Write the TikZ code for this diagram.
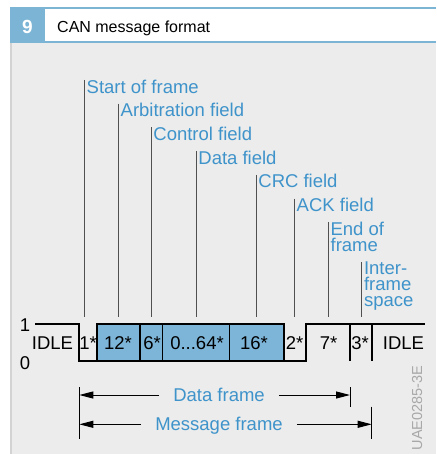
\documentclass[tikz,border=0pt]{standalone}
\usepackage{fontspec}
\setmainfont{Liberation Sans}
\usetikzlibrary{arrows.meta}
\definecolor{hdrblue}{HTML}{7CB4D6}
\definecolor{txtblue}{HTML}{3F93CB}
\definecolor{boxblue}{HTML}{7DB5D8}
\definecolor{bggrey}{HTML}{EBECEB}
\definecolor{edgegrey}{HTML}{D2D3D2}
\definecolor{leadgrey}{HTML}{505050}
\definecolor{codegrey}{HTML}{A8A8A8}
\begin{document}
\begin{tikzpicture}[x=1pt,y=-1pt,
  lbl/.style={text=txtblue, font=\fontsize{18.5}{16}\selectfont, inner sep=0pt, anchor=base west},
  mlbl/.style={text=txtblue, font=\fontsize{18.5}{16}\selectfont, inner sep=0pt, anchor=north west, align=left},
  sig/.style={line width=1.2pt, line join=miter},
  val/.style={font=\fontsize{18.5}{20}\selectfont, inner sep=0pt, anchor=base},
  lead/.style={leadgrey, line width=1pt},
  dimarrow/.style={line width=1pt, -{Triangle[length=14pt,width=7pt]}},
  bar/.style={line width=1pt},
  frm/.style={text=txtblue, font=\fontsize{18.5}{20}\selectfont, inner xsep=14pt, inner ysep=0pt, text height=13pt, text depth=0pt},
]
\useasboundingbox (0,0) rectangle (436,454);
% background and header
\fill[bggrey] (10,43) rectangle (436,454);
\fill[edgegrey] (10,43) rectangle (12,454);
\fill[hdrblue] (10,7.5) rectangle (436,9.5);
\fill[hdrblue] (10,41.5) rectangle (436,43.5);
\fill[hdrblue] (10,7.5) rectangle (45,43.5);
\node[font=\fontsize{19}{20}\selectfont\bfseries, text=white, anchor=base, inner sep=0pt] (num) at (27.5,33.5) {9};
\node[font=\fontsize{16}{18}\selectfont, anchor=base west, inner sep=0pt] (title) at (57,32.5) {CAN message format};

% field labels with leader lines
\draw[lead] (84.3,80) -- (84.3,317);
\node[lbl] (sof) at (86.5,93.2) {Start of frame};
\draw[lead] (118.3,103.7) -- (118.3,317);
\node[lbl] (arb) at (120.5,116.9) {Arbitration field};
\draw[lead] (151,127.4) -- (151,317);
\node[lbl] (ctl) at (153.2,140.6) {Control field};
\draw[lead] (196,151.1) -- (196,317);
\node[lbl] (dat) at (198.2,164.3) {Data field};
\draw[lead] (256,174.8) -- (256,317);
\node[lbl] (crc) at (258.2,188) {CRC field};
\draw[lead] (294.3,198.5) -- (294.3,317);
\node[lbl] (ack) at (296.5,211.7) {ACK field};
\draw[lead] (328.2,222.2) -- (328.2,317);
\node[mlbl] (eof) at (330.4,221.8) {End of\\frame};
\draw[lead] (361.6,262) -- (361.6,317);
\node[mlbl] (ifs) at (363.8,261.6) {Inter-\\frame\\space};

% signal
\fill[boxblue] (97,324) rectangle (284,361);
\draw[sig] (35,324) -- (79,324) -- (79,361) -- (306,361) -- (306,324) -- (425,324);
\draw[sig] (97,361) -- (97,324) -- (284,324) -- (284,361);
\foreach \xx in {140,162.7,229.3,350,372} \draw[sig] (\xx,324) -- (\xx,361);
\node[val] (one) at (25,331.5) {1};
\node[val] (zero) at (25,369) {0};
\node[val] (idle1) at (52.5,349.5) {IDLE};
\node[val] (b1) at (88,349.5) {1*};
\node[val] (b12) at (118,349.5) {12*};
\node[val] (b6) at (152,349.5) {6*};
\node[val] (b64) at (197,349.5) {0...64*};
\node[val] (b16) at (254,349.5) {16*};
\node[val] (b2) at (294.5,349.5) {2*};
\node[val] (b7) at (328.5,349.5) {7*};
\node[val] (b3) at (360,349.5) {3*};
\node[val] (idle2) at (403.5,349.5) {IDLE};

% frame dimensions
\coordinate (lbarT) at (79.3,387);
\coordinate (lbarB) at (79.3,439.3);
\coordinate (dbarT) at (350,387);
\coordinate (dbarB) at (350,406.7);
\coordinate (mbarT) at (371.7,406.7);
\coordinate (mbarB) at (371.7,439.3);
\draw[bar] (lbarT) -- (lbarB);
\draw[bar] (dbarT) -- (dbarB);
\draw[bar] (mbarT) -- (mbarB);
\node[frm] (df) at (219,395) {Data frame};
\node[frm] (mf) at (219,424.3) {Message frame};
\draw[dimarrow] (df.west) -- (df.west -| lbarT);
\draw[dimarrow] (df.east) -- (df.east -| dbarT);
\draw[dimarrow] (mf.west) -- (mf.west -| lbarT);
\draw[dimarrow] (mf.east) -- (mf.east -| mbarT);

\node[rotate=90, text=codegrey, font=\fontsize{14.5}{16}\selectfont, inner sep=0pt] (code) at (417,408) {UAE0285-3E};
\end{tikzpicture}
\end{document}
